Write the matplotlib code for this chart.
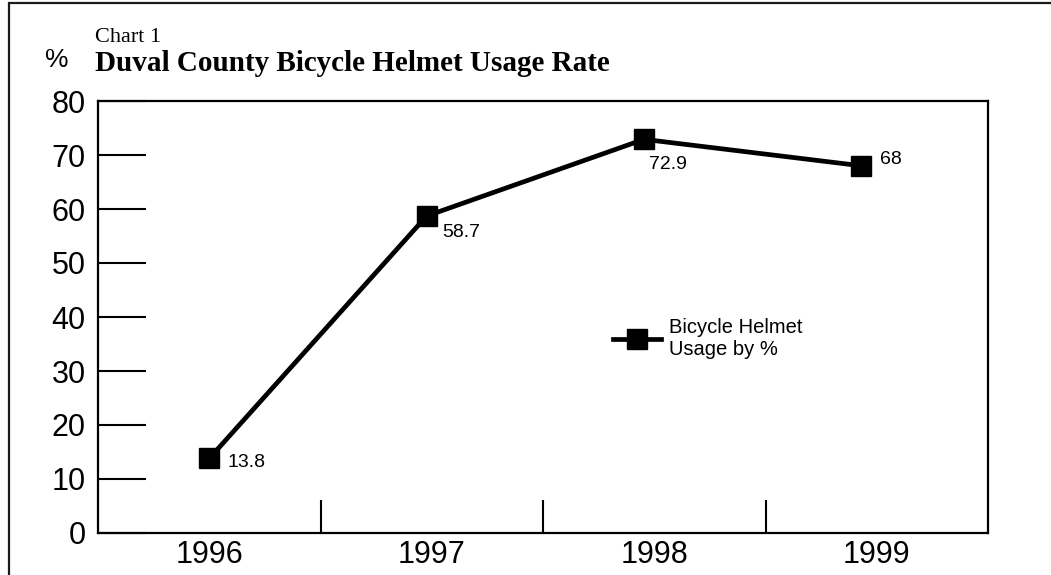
import numpy as np
import matplotlib
matplotlib.use("Agg")
import matplotlib.pyplot as plt
from matplotlib.patches import Rectangle

# data
years = ["1996", "1997", "1998", "1999"]
usage = [13.8, 58.7, 72.9, 68]
series_name = "Bicycle Helmet\nUsage by %"
y_ticks = [0, 10, 20, 30, 40, 50, 60, 70, 80]

# label offsets (points) relative to each marker
label_offsets = [(13, -6), (11.5, -15), (3.6, -21), (13.7, 1.5)]

sans = "Liberation Sans"
serif = "Liberation Serif"

W, H = 1051, 575
fig = plt.figure(figsize=(W / 100, H / 100), dpi=100)
ax = fig.add_axes([98 / W, 1 - 533 / H, 890 / W, 432 / H])

# outer frame (only left and top edges fall inside the picture)
fig.patches.append(Rectangle((8.5 / W, -0.2), 1.2, 1.2 - 2.5 / H,
                             transform=fig.transFigure, fill=False,
                             edgecolor="#1a1a1a", linewidth=1.6))

slots = np.arange(len(years))
point_x = slots * 0.977  # markers sit slightly tighter than the category slots

ax.plot(point_x, usage, color="black", linewidth=3.4, marker="s",
        markersize=15, markerfacecolor="black", markeredgecolor="black",
        label=series_name, zorder=3)

for px, v, (dx, dy) in zip(point_x, usage, label_offsets):
    ax.annotate(f"{v:g}", (px, v), xytext=(dx, dy), textcoords="offset points",
                ha="left", va="baseline", fontsize=14, family=sans)

ax.set_xlim(-0.5, len(years) - 0.5)
ax.set_ylim(0, 80)

ax.set_yticks(y_ticks)
ax.set_yticklabels([str(t) for t in y_ticks], fontsize=22, family=sans)
ax.tick_params(axis="y", direction="in", length=34.5, width=1.5, pad=9)

ax.set_xticks(slots)
ax.set_xticklabels(years, fontsize=22, family=sans)
ax.set_xticks(slots[:-1] + 0.5, minor=True)
ax.tick_params(axis="x", which="major", length=0, pad=5)
ax.tick_params(axis="x", which="minor", direction="in", length=24, width=1.5)

for s in ax.spines.values():
    s.set_linewidth(1.6)

leg = ax.legend(loc="upper left", bbox_to_anchor=(613 / W, 1 - 318 / H),
                bbox_transform=fig.transFigure, frameon=False, borderpad=0,
                borderaxespad=0, handlelength=2.4, handletextpad=0.4,
                prop={"family": sans, "size": 14.5})

fig.text(95 / W, 1 - 42 / H, "Chart 1", family=serif, fontsize=16,
         va="baseline", ha="left")
fig.text(95 / W, 1 - 71 / H, "Duval County Bicycle Helmet Usage Rate",
         family=serif, fontsize=21, fontweight="bold", va="baseline", ha="left")
fig.text(45 / W, 1 - 67 / H, "%", family=sans, fontsize=19,
         va="baseline", ha="left")

fig.savefig("out.png", dpi=100)
